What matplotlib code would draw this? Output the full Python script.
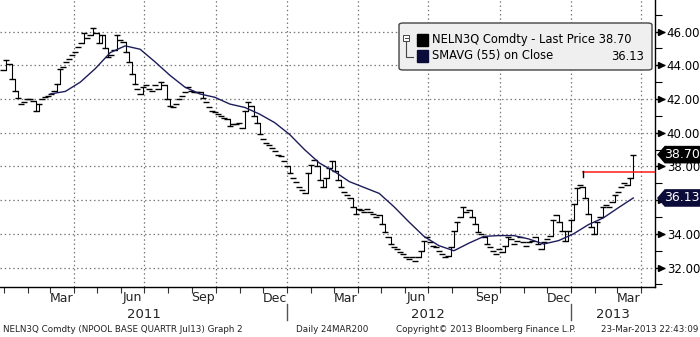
import matplotlib
matplotlib.use('Agg')
import matplotlib.pyplot as plt
import matplotlib.dates as mdates
import matplotlib.transforms as mtransforms
from matplotlib.patches import Polygon, FancyBboxPatch, Rectangle
from matplotlib.lines import Line2D
import numpy as np
import pandas as pd

# ---------------- data ----------------
price_start = '2010-12-31'
price_end = '2013-03-22'
price_values = [
    43.7, 44.3, 44.1, 43.2, 42.5, 42.05, 41.7, 41.8, 42.0, 42.0,
    41.9, 41.3, 41.7, 42.0, 42.1, 42.2, 42.3, 42.5, 42.9, 43.8,
    43.9, 44.2, 44.4, 44.6, 44.8, 45.1, 45.3, 45.9, 45.6, 45.8,
    46.2, 45.9, 45.3, 45.8, 45.0, 44.5, 44.6, 44.9, 45.8, 45.5,
    45.4, 44.8, 44.2, 43.5, 42.9, 42.6, 42.3, 42.7, 42.8, 42.6,
    42.5, 42.8, 42.6, 43.0, 42.8, 42.0, 41.6, 41.5, 41.7, 42.0,
    42.2, 42.4, 42.7, 42.5, 42.4, 42.4, 42.4, 42.05, 41.8, 41.5,
    41.3, 41.2, 41.1, 41.0, 40.9, 40.8, 40.4, 40.5, 40.5, 40.6,
    40.3, 41.3, 41.8, 41.6, 41.0, 40.6, 39.9, 39.6, 39.4, 39.3,
    39.1, 38.9, 38.7, 38.6, 38.3, 38.0, 37.6, 37.3, 37.1, 36.8,
    36.6, 36.4, 37.6, 38.1, 38.4, 38.0, 37.2, 36.8, 37.3, 37.9,
    38.3, 37.7, 37.2, 36.8, 36.5, 36.3, 36.1, 35.6, 35.2, 35.5,
    35.4, 35.3, 35.5, 35.3, 35.2, 35.0, 35.1, 34.6, 34.1, 33.8,
    33.4, 33.2, 33.1, 32.9, 32.8, 32.6, 32.5, 32.6, 32.4, 32.6,
    33.0, 33.6, 33.8, 33.5, 33.3, 33.2, 33.0, 32.8, 32.6, 32.7,
    33.2, 34.2, 34.7, 35.0, 35.6, 35.3, 35.4, 35.0, 34.6, 34.1,
    34.0, 33.8, 33.4, 33.2, 33.0, 32.8, 33.1, 32.9, 33.3, 33.8,
    33.7, 33.4, 33.6, 33.8, 33.5, 33.3, 33.5, 33.6, 33.8, 33.4,
    33.1, 33.5, 33.7, 33.9, 34.8, 35.1, 34.7, 34.2, 33.6, 34.2,
    34.8, 35.8, 36.7, 36.9, 36.8, 36.1, 35.2, 34.4, 34.0, 34.7,
    35.0, 35.6, 35.7, 35.6, 35.9, 36.3, 36.5, 36.8, 37.0, 36.9,
    37.3, 38.7,
]

sma_start = '2011-03-02'
sma_end = '2013-03-22'
sma_values = [
    42.3, 42.45, 43.0, 43.8, 44.75, 45.15, 44.95, 44.2, 43.4, 42.7,
    42.3, 42.1, 41.7, 41.5, 41.1, 40.6, 39.9, 39.0, 38.2, 37.7,
    37.1, 36.75, 36.4, 35.6, 34.7, 33.85, 33.3, 33.0, 33.45, 33.85,
    33.9, 33.9, 33.7, 33.4, 33.6, 34.0, 34.55, 34.95, 35.55, 36.13,
]

last_price = 38.70
last_sma = 36.13
resistance_level = 37.65
resistance_start = '2013-01-16'

y_ticks = [32, 34, 36, 38, 40, 42, 44, 46]
y_hidden = [36]  # label covered by the SMA price tag in the reference
y_minor = [31, 33, 35, 37, 39, 41, 43, 45, 47]

month_label_dates = ['2011-03-16', '2011-06-15', '2011-09-15', '2011-12-16',
                     '2012-03-16', '2012-06-15', '2012-09-15', '2012-12-16',
                     '2013-03-16']
month_label_text = ['Mar', 'Jun', 'Sep', 'Dec', 'Mar', 'Jun', 'Sep', 'Dec', 'Mar']
grid_dates = ['2011-04-01', '2011-07-01', '2011-10-01', '2012-01-01',
              '2012-04-01', '2012-07-01', '2012-10-01', '2013-01-01',
              '2013-04-01']
year_label_dates = ['2011-07-01', '2012-07-01', '2013-02-24']
year_label_text = ['2011', '2012', '2013']
year_breaks = ['2012-01-01', '2013-01-01']

legend_price = 'NELN3Q Comdty - Last Price 38.70'
legend_sma = 'SMAVG (55) on Close'
legend_sma_val = '36.13'
footer_left = 'NELN3Q Comdty (NPOOL BASE QUARTR Jul13) Graph 2'
footer_mid1 = 'Daily 24MAR200'
footer_mid2 = 'Copyright\u00a9 2013 Bloomberg Finance L.P.'
footer_right = '23-Mar-2013 22:43:09'

x_min = '2010-12-27'
x_max = '2013-04-19'
y_min, y_max = 30.85, 47.87

# ---------------- figure ----------------
W, H = 700, 337
plt.rcParams['font.family'] = ['DejaVu Sans']
fig = plt.figure(figsize=(W / 100, H / 100), dpi=100)
fig.patch.set_facecolor('white')

ax_l, ax_b, ax_w, ax_h = 0, 50, 655, 287  # pixels (bottom-left origin)
ax = fig.add_axes([ax_l / W, ax_b / H, ax_w / W, ax_h / H])
ax.set_facecolor('white')

pdates = pd.date_range(price_start, price_end, periods=len(price_values))
sdates = pd.date_range(sma_start, sma_end, periods=len(sma_values))
pvals = np.array(price_values)

# grid
grid_kw = dict(color='#7a7a7a', lw=0.9, ls=(0, (1.2, 2.2)), zorder=1)
for g in grid_dates:
    ax.axvline(pd.Timestamp(g), **grid_kw)
for yt in y_ticks:
    ax.axhline(yt, **grid_kw)

# price: daily dashes with vertical connectors on jumps
ax.plot(pdates, pvals, ls='none', marker='_', ms=4, mew=1.0, color='black', zorder=3)
for i in range(1, len(pvals)):
    if abs(pvals[i] - pvals[i - 1]) > 0.35:
        ax.plot([pdates[i], pdates[i]], [pvals[i - 1], pvals[i]], color='black',
                lw=0.8, zorder=3)

# SMA
ax.plot(sdates, sma_values, color='#1c1c5c', lw=1.0, zorder=4)

# resistance line
ax.plot([pd.Timestamp(resistance_start), pd.Timestamp(x_max)],
        [resistance_level, resistance_level], color='#ff1a1a', lw=1.1, zorder=5)
ax.plot([pd.Timestamp(resistance_start)] * 2, [resistance_level - 0.25, resistance_level + 0.05],
        color='black', lw=1.0, zorder=5)

ax.set_xlim(pd.Timestamp(x_min), pd.Timestamp(x_max))
ax.set_ylim(y_min, y_max)

# spines
for s in ['left', 'top']:
    ax.spines[s].set_visible(False)
ax.spines['right'].set_color('black')
ax.spines['bottom'].set_color('black')
ax.spines['right'].set_linewidth(1.0)
ax.spines['bottom'].set_linewidth(1.0)

# x ticks: every month start, no labels
ax.xaxis.set_major_locator(mdates.MonthLocator())
ax.xaxis.set_major_formatter(plt.NullFormatter())
ax.tick_params(axis='x', direction='out', length=4, width=0.8, color='#333333')

# y ticks on right
ax.yaxis.tick_right()
ax.set_yticks(y_ticks)
ax.set_yticklabels(['' if v in y_hidden else '%.2f' % v for v in y_ticks])
ax.set_yticks(y_minor, minor=True)
ax.tick_params(axis='y', which='major', direction='out', length=7, width=1.0,
               pad=1.5, labelsize=8.5, colors='black')
ax.tick_params(axis='y', which='minor', direction='out', length=5, width=0.8)

btr = mtransforms.blended_transform_factory(ax.transAxes, ax.transData)
for yt in y_ticks:
    ax.plot([1 + 6 / ax_w], [yt], marker='>', ms=4, color='black',
            transform=btr, clip_on=False, zorder=6)

# month/year labels
xtr = mtransforms.blended_transform_factory(ax.transData, ax.transAxes)
for d, t in zip(month_label_dates, month_label_text):
    ax.text(pd.Timestamp(d), -11 / ax_h, t, transform=xtr, ha='center', va='center',
            fontsize=9, color='#222222')
for d, t in zip(year_label_dates, year_label_text):
    ax.text(pd.Timestamp(d), -27 / ax_h, t, transform=xtr, ha='center', va='center',
            fontsize=9.5, color='#222222')
for d in year_breaks:
    ax.add_line(Line2D([pd.Timestamp(d)] * 2, [-17 / ax_h, -33 / ax_h], transform=xtr,
                       color='#555555', lw=1.0, clip_on=False))

# right price tags
def tag(val, text, face):
    h = 0.48
    x0 = 1 + 3 / ax_w
    x1 = 1 + 10 / ax_w
    x2 = 1 + 46 / ax_w
    poly = Polygon([[x0, val], [x1, val + h], [x2, val + h], [x2, val - h], [x1, val - h]],
                   closed=True, transform=btr, facecolor=face, edgecolor=face,
                   clip_on=False, zorder=7)
    ax.add_patch(poly)
    ax.text(1 + 27 / ax_w, val, text, transform=btr, ha='center', va='center',
            color='white', fontsize=9, zorder=8, clip_on=False)

tag(last_price, '%.2f' % last_price, 'black')
tag(last_sma, '%.2f' % last_sma, '#0c0c3a')

# legend box (figure pixel coordinates, top-left origin)
def fx(x):
    return x / W

def fy(y):
    return 1 - y / H

box = FancyBboxPatch((fx(399), fy(70)), fx(652) - fx(399), fy(23) - fy(70),
                     boxstyle='round,pad=0,rounding_size=0.006',
                     transform=fig.transFigure, facecolor='#efefef',
                     edgecolor='#444444', lw=1.0, zorder=10)
fig.add_artist(box)
fig.add_artist(Rectangle((fx(417), fy(46)), fx(428) - fx(417), fy(34) - fy(46),
                         transform=fig.transFigure, facecolor='black', edgecolor='black', zorder=11))
fig.add_artist(Rectangle((fx(417), fy(62)), fx(428) - fx(417), fy(50) - fy(62),
                         transform=fig.transFigure, facecolor='#0c0c3a', edgecolor='#0c0c3a', zorder=11))
# tree icon
fig.add_artist(Rectangle((fx(403), fy(41)), fx(409) - fx(403), fy(35) - fy(41),
                         transform=fig.transFigure, facecolor='white', edgecolor='#444444',
                         lw=0.7, zorder=11))
fig.add_artist(Line2D([fx(404.5), fx(407.5)], [fy(38), fy(38)], transform=fig.transFigure,
                      color='#444444', lw=0.7, zorder=12))
fig.add_artist(Line2D([fx(406), fx(406), fx(413)], [fy(41), fy(57), fy(57)],
                      transform=fig.transFigure, color='#444444', lw=0.8, zorder=12))
fig.text(fx(432), fy(40), legend_price, ha='left', va='center', fontsize=8.3,
         color='black', zorder=12)
fig.text(fx(432), fy(56), legend_sma, ha='left', va='center', fontsize=8.3,
         color='black', zorder=12)
fig.text(fx(644), fy(56), legend_sma_val, ha='right', va='center', fontsize=8.3,
         color='black', zorder=12)

# footer
fy_footer = fy(330)
fig.text(fx(3), fy_footer, footer_left, ha='left', va='center', fontsize=6.3, color='#222222')
fig.text(fx(296), fy_footer, footer_mid1, ha='left', va='center', fontsize=6.3, color='#222222')
fig.text(fx(396), fy_footer, footer_mid2, ha='left', va='center', fontsize=6.3, color='#222222')
fig.text(fx(698), fy_footer, footer_right, ha='right', va='center', fontsize=6.3, color='#222222')

fig.savefig('out.png', dpi=100, facecolor='white')
